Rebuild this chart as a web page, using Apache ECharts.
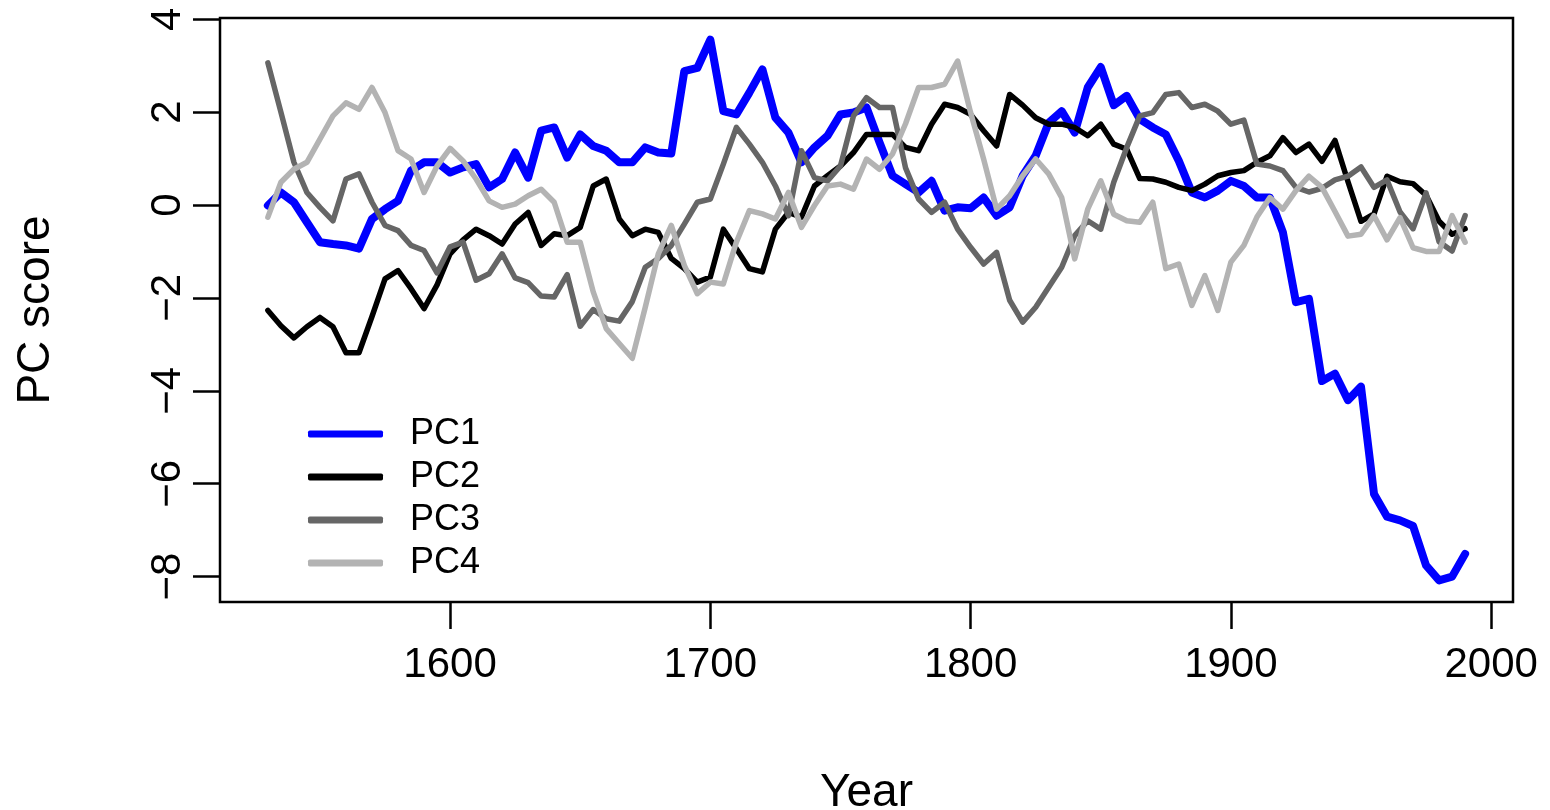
<!DOCTYPE html>
<html><head><meta charset="utf-8">
<script src="https://cdn.jsdelivr.net/npm/echarts@6/dist/echarts.min.js"></script>
<style>html,body{margin:0;padding:0;background:#fff}#c{width:1550px;height:810px}</style>
</head><body><div id="c"></div>
<script>
const years = [1530,1535,1540,1545,1550,1555,1560,1565,1570,1575,1580,1585,1590,1595,
1600,1605,1610,1615,1620,1625,1630,1635,1640,1645,1650,1655,1660,1665,1670,1675,1680,1685,1690,1695,
1700,1705,1710,1715,1720,1725,1730,1735,1740,1745,1750,1755,1760,1765,1770,1775,1780,1785,1790,1795,
1800,1805,1810,1815,1820,1825,1830,1835,1840,1845,1850,1855,1860,1865,1870,1875,1880,1885,1890,1895,
1900,1905,1910,1915,1920,1925,1930,1935,1940,1945,1950,1955,1960,1965,1970,1975,1980,1985,1990];

const pc1 = [-0.01,0.27,0.06,-0.37,-0.80,-0.84,-0.87,-0.94,-0.30,-0.09,0.09,0.74,0.92,0.92,
0.70,0.81,0.88,0.38,0.56,1.13,0.59,1.60,1.67,1.02,1.52,1.27,1.17,0.92,0.92,1.24,1.13,1.11,2.88,2.95,
3.56,2.02,1.95,2.42,2.92,1.88,1.56,0.92,1.24,1.49,1.95,1.99,2.10,1.35,0.63,0.45,0.27,0.52,-0.12,-0.05,
-0.07,0.16,-0.23,-0.05,0.63,1.06,1.77,2.02,1.56,2.53,2.97,2.15,2.35,1.85,1.67,1.52,0.95,0.27,0.16,0.31,
0.52,0.41,0.16,0.16,-0.59,-2.09,-2.02,-3.79,-3.63,-4.20,-3.91,-6.22,-6.71,-6.79,-6.91,-7.76,-8.08,-8.00,-7.51];

const pc2 = [-2.27,-2.60,-2.86,-2.62,-2.42,-2.62,-3.18,-3.18,-2.40,-1.59,-1.41,-1.80,-2.23,-1.72,
-1.05,-0.75,-0.52,-0.66,-0.84,-0.41,-0.16,-0.87,-0.62,-0.66,-0.48,0.41,0.56,-0.30,-0.66,-0.52,-0.59,-1.15,-1.37,-1.66,
-1.55,-0.52,-0.94,-1.37,-1.44,-0.52,-0.16,-0.26,0.41,0.63,0.84,1.13,1.52,1.52,1.52,1.24,1.17,1.74,2.17,2.10,
1.95,1.60,1.27,2.38,2.15,1.88,1.74,1.74,1.67,1.49,1.74,1.31,1.20,0.57,0.56,0.49,0.38,0.31,0.45,0.63,
0.70,0.74,0.92,1.06,1.45,1.13,1.31,0.94,1.39,0.50,-0.35,-0.19,0.62,0.50,0.46,0.21,-0.35,-0.63,-0.51];

const pc3 = [3.06,2.00,0.92,0.27,-0.05,-0.34,0.56,0.67,0.06,-0.44,-0.55,-0.87,-0.98,-1.46,
-0.90,-0.80,-1.62,-1.48,-1.05,-1.57,-1.67,-1.96,-1.98,-1.50,-2.61,-2.25,-2.45,-2.50,-2.08,-1.34,-1.15,-0.87,-0.41,0.06,
0.13,0.88,1.67,1.31,0.92,0.41,-0.23,1.17,0.59,0.52,0.84,1.92,2.31,2.10,2.10,0.80,0.13,-0.16,0.06,-0.52,
-0.91,-1.27,-1.02,-2.05,-2.52,-2.20,-1.77,-1.34,-0.66,-0.34,-0.52,0.49,1.24,1.92,1.99,2.38,2.42,2.10,2.17,2.02,
1.74,1.83,0.88,0.84,0.74,0.38,0.28,0.36,0.54,0.62,0.82,0.38,0.54,-0.15,-0.51,0.26,-0.79,-0.99,-0.23];

const pc4 = [-0.26,0.49,0.77,0.92,1.42,1.92,2.20,2.06,2.53,1.99,1.17,0.99,0.27,0.84,
1.22,0.95,0.56,0.09,-0.05,0.02,0.20,0.34,0.06,-0.80,-0.80,-1.87,-2.66,-2.98,-3.30,-2.20,-1.05,-0.44,-1.30,-1.91,
-1.66,-1.70,-0.80,-0.12,-0.19,-0.30,0.27,-0.48,-0.01,0.41,0.45,0.34,0.99,0.77,1.10,1.75,2.53,2.53,2.60,3.10,
1.99,0.99,-0.09,0.20,0.63,0.99,0.67,0.16,-1.16,-0.09,0.52,-0.20,-0.34,-0.37,0.06,-1.37,-1.27,-2.16,-1.52,-2.27,
-1.23,-0.87,-0.26,0.16,-0.09,0.31,0.62,0.38,-0.14,-0.67,-0.63,-0.23,-0.75,-0.27,-0.92,-1.00,-1.00,-0.23,-0.80];

const seriesNames = ['PC1','PC2','PC3','PC4'];
const xTicks = [1600,1700,1800,1900,2000];
const yTicks = [-8,-6,-4,-2,0,2,4];

const FONT = 'Liberation Sans, Arial, sans-serif';
const X_MIN = 1511.6, X_MAX = 2008.4;
const Y_MIN = -8.546, Y_MAX = 4.026;

const pairs = vals => years.map((y, i) => [y, vals[i]]);
const styles = [
  {color:'#0000FF', width:8},
  {color:'#000000', width:5.5},
  {color:'#666666', width:5.5},
  {color:'#B3B3B3', width:5.5}
];
const allVals = [pc1, pc2, pc3, pc4];

const chart = echarts.init(document.getElementById('c'), null, {renderer:'canvas'});
chart.setOption({
  animation: false,
  backgroundColor: '#fff',
  grid: {left:220, right:37, top:18, bottom:208, show:true, borderColor:'#000', borderWidth:2.5,
    backgroundColor:'transparent', containLabel:false, outerBoundsMode:'none'},
  xAxis: {
    type:'value', min:X_MIN, max:X_MAX,
    axisLine:{show:false, onZero:false},
    axisTick:{show:true, customValues:xTicks, length:27, inside:false, lineStyle:{color:'#000', width:2.5}},
    axisLabel:{customValues:xTicks, margin:42, fontSize:42, fontFamily:FONT, color:'#000',
      formatter: v => String(v)},
    splitLine:{show:false},
    name:'Year', nameLocation:'middle', nameGap:168,
    nameTextStyle:{fontSize:46, fontFamily:FONT, color:'#000'}
  },
  yAxis: {
    type:'value', min:Y_MIN, max:Y_MAX,
    axisLine:{show:false, onZero:false},
    axisTick:{show:true, customValues:yTicks, length:27, inside:false, lineStyle:{color:'#000', width:2.5}},
    axisLabel:{customValues:yTicks, rotate:90, margin:31, fontSize:42, fontFamily:FONT, color:'#000',
      formatter: v => String(v).replace('-', '\u2212')},
    splitLine:{show:false},
    name:'PC score', nameLocation:'middle', nameGap:161,
    nameTextStyle:{fontSize:46, fontFamily:FONT, color:'#000'}
  },
  legend: {
    orient:'vertical', left:308, top:416, padding:0,
    itemWidth:75, itemHeight:7, itemGap:7, icon:'roundRect',
    itemStyle:{borderWidth:0},
    textStyle:{fontSize:36, lineHeight:36, fontFamily:FONT, color:'#000', padding:[0,0,0,22]},
    data: seriesNames
  },
  series: seriesNames.map((name, k) => ({
    type:'line', name, data: pairs(allVals[k]),
    symbol:'none', showSymbol:false,
    lineStyle:{color:styles[k].color, width:styles[k].width, cap:'round', join:'round'},
    itemStyle:{color:styles[k].color},
    emphasis:{disabled:true}
  }))
});
</script>
</body></html>
